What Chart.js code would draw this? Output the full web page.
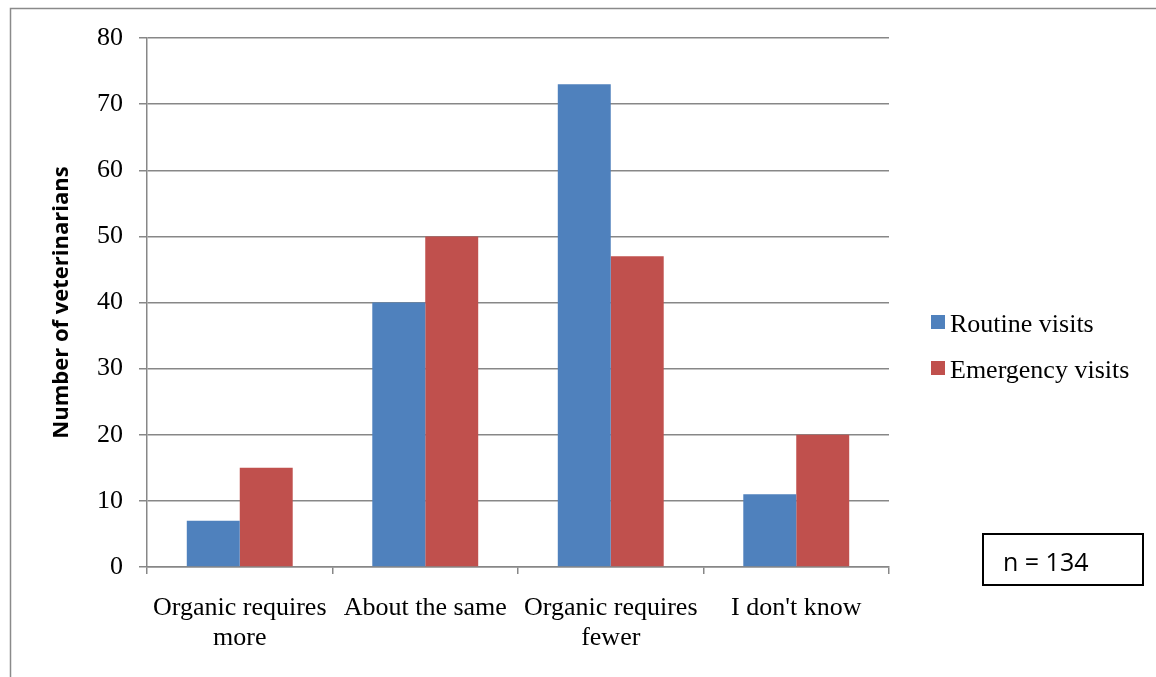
<!DOCTYPE html>
<html>
<head>
<meta charset="utf-8">
<title>Veterinarians visits</title>
<script src="https://cdn.jsdelivr.net/npm/chart.js@4/dist/chart.umd.min.js"></script>
<style>
  html, body { margin: 0; padding: 0; background: #fff; }
  #wrap { position: relative; width: 1156px; height: 677px; }
</style>
</head>
<body>
<div id="wrap"><canvas id="myChart" width="1156" height="677"></canvas></div>
<script>
// chart data
const categories = [
  ['Organic requires', 'more'],
  'About the same',
  ['Organic requires', 'fewer'],
  "I don't know"
];
const seriesNames = ['Routine visits', 'Emergency visits'];
const routineVisits = [7, 40, 73, 11];
const emergencyVisits = [15, 50, 47, 20];
const yMin = 0, yMax = 80, yStep = 10;
const yTitle = 'Number of veterinarians';
const sampleNote = 'n = 134';

const serif = '"Liberation Serif", "Times New Roman", serif';
const gridGray = '#878787';

// frame, legend and the n box are drawn by hand
const extras = {
  id: 'extras',
  beforeDraw(chart) {
    const ctx = chart.ctx;
    ctx.save();
    ctx.fillStyle = '#fff';
    ctx.fillRect(0, 0, chart.width, chart.height);
    ctx.strokeStyle = '#8a8a8a';
    ctx.lineWidth = 1.5;
    ctx.beginPath();
    ctx.moveTo(10.5, chart.height);
    ctx.lineTo(10.5, 8.5);
    ctx.lineTo(chart.width, 8.5);
    ctx.stroke();
    ctx.restore();
  },
  afterDraw(chart) {
    const ctx = chart.ctx;
    ctx.save();
    ctx.font = '26px ' + serif;
    ctx.textBaseline = 'middle';
    ctx.textAlign = 'left';
    chart.data.datasets.forEach((ds, i) => {
      const y = 315 + i * 46;
      ctx.fillStyle = ds.backgroundColor;
      ctx.fillRect(931, y, 14, 14);
      ctx.fillStyle = '#000';
      ctx.fillText(ds.label, 950, y + 10);
    });
    // n box
    ctx.strokeStyle = '#000';
    ctx.lineWidth = 2;
    ctx.strokeRect(983, 534, 160, 51);
    ctx.font = '25px "Open Sans", "Liberation Sans", sans-serif';
    ctx.fillStyle = '#000';
    ctx.fillText(sampleNote, 1003, 564);
    ctx.restore();
  }
};

const data = {
  labels: categories,
  datasets: [
    { label: seriesNames[0], data: routineVisits, backgroundColor: '#4F81BD' },
    { label: seriesNames[1], data: emergencyVisits, backgroundColor: '#C0504D' }
  ]
};

const config = {
  type: 'bar',
  data: data,
  options: {
    responsive: false,
    animation: false,
    layout: { padding: { left: 0, right: 267, top: 38, bottom: 0 } },
    datasets: { bar: { barPercentage: 1, categoryPercentage: 0.571, borderWidth: 0 } },
    plugins: { legend: { display: false }, tooltip: { enabled: false } },
    scales: {
      x: {
        grid: { display: true, drawOnChartArea: false, drawTicks: true, tickLength: 7, offset: true, color: gridGray, lineWidth: 1.5 },
        border: { display: true, color: gridGray, width: 1.5 },
        ticks: { color: '#000', font: { family: serif, size: 26, lineHeight: 1.15 }, padding: 19, maxRotation: 0, autoSkip: false },
        afterFit(scale) { scale.height = 110; }
      },
      y: {
        min: yMin, max: yMax,
        grid: { color: gridGray, lineWidth: 1.5, tickLength: 8 },
        border: { display: true, color: gridGray, width: 1.5 },
        ticks: { stepSize: yStep, color: '#000', font: { family: serif, size: 26 }, padding: 16 },
        title: {
          display: true, text: yTitle, color: '#000',
          font: { family: '"Open Sans", "Liberation Sans", sans-serif', size: 22, weight: 'bold' },
          padding: { top: 49, bottom: 0 }
        },
        afterFit(scale) { scale.width = 147; }
      }
    }
  },
  plugins: [extras]
};

const myChart = new Chart(document.getElementById('myChart'), config);
</script>
</body>
</html>
